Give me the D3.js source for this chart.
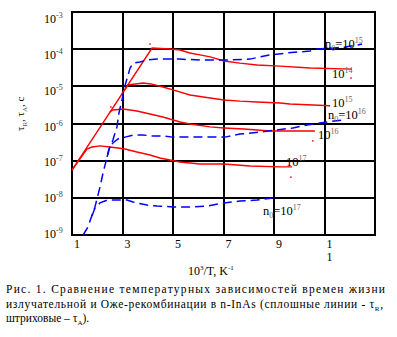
<!DOCTYPE html>
<html><head><meta charset="utf-8">
<script src="https://cdn.jsdelivr.net/npm/d3@7"></script>
<style>
body{margin:0;background:#fff}
svg{display:block}
</style>
</head><body>
<svg id="c" width="397" height="337" font-family="Times New Roman, Liberation Serif, DejaVu Serif, serif"></svg>
<script>
// ---- data ----
const xTicks = [1, 3, 5, 7, 9, 11];
const xTickLabels = [["1"], ["3"], ["5"], ["7"], ["9"], ["1", "1"]];
const yTickExps = [-3, -4, -5, -6, -7, -8, -9];

// radiative lifetimes tau_R (solid red)
const tauR14 = [[1.00,5.6e-8],[4.17,1.07e-4],[4.88,1.01e-4],[5.28,9.5e-5],[5.67,7.9e-5],[6.07,7.0e-5],[6.47,6.2e-5],[7.02,4.8e-5],[7.65,4.2e-5],[8.33,3.75e-5],[9.24,3.5e-5],[10.43,3.1e-5],[12.09,2.9e-5]];
const tauR15 = [[2.98,6.3e-6],[3.22,1.09e-5],[3.81,1.23e-5],[4.13,1.16e-5],[4.60,9.6e-6],[5.00,8.0e-6],[5.67,5.85e-6],[6.47,4.85e-6],[7.02,4.3e-6],[7.65,4.0e-6],[8.33,3.8e-6],[9.24,3.56e-6],[9.63,3.35e-6],[10.54,3.15e-6],[11.22,3.0e-6]];
const tauR16 = [[2.50,2.04e-6],[2.62,2.31e-6],[3.02,2.46e-6],[3.57,2.17e-6],[4.09,1.80e-6],[4.60,1.5e-6],[5.28,1.10e-6],[5.67,9.7e-7],[6.47,8.1e-7],[7.02,7.6e-7],[7.81,7.1e-7],[8.84,6.3e-7],[10.62,6.3e-7]];
const tauR17 = [[1.00,5.6e-8],[1.59,2.06e-7],[1.79,2.33e-7],[2.11,2.5e-7],[2.50,2.33e-7],[2.82,2.19e-7],[3.10,2.06e-7],[3.57,1.71e-7],[4.09,1.42e-7],[4.48,1.18e-7],[4.88,1.04e-7],[5.28,9.2e-8],[6.07,8.1e-8],[7.02,8.1e-8],[8.05,7.2e-8],[9.24,6.8e-8],[9.71,6.8e-8]];
const redMarks = [[4.09,1.38e-4],[2.54,2.78e-6],[12.05,1.67e-5],[10.54,3.4e-7],[9.67,3.6e-8]];

// Auger lifetimes tau_A (dashed blue)
const tauA15 = [[1.44,1.0e-9],[1.63,1.64e-9],[1.91,5.7e-9],[2.11,1.96e-8],[2.23,4.7e-8],[2.39,1.26e-7],[2.50,2.33e-7],[2.62,3.6e-7],[2.78,8.1e-7],[2.82,1.24e-6],[2.86,1.92e-6],[2.98,4.29e-6],[3.06,7.97e-6],[3.14,1.31e-5],[3.22,2.0e-5],[3.30,3.1e-5],[3.42,4.2e-5],[3.69,4.5e-5],[3.97,5.1e-5],[4.37,5.4e-5],[5.28,5.4e-5],[6.07,5.1e-5],[7.02,5.1e-5],[8.05,5.4e-5],[8.45,6.2e-5],[8.84,7.0e-5],[9.51,7.9e-5],[9.95,8.4e-5],[10.43,8.9e-5],[10.70,1.01e-4],[11.34,1.07e-4],[11.81,1.14e-4],[12.29,1.29e-4],[12.49,1.38e-4]];
const tauA16 = [[2.39,1.26e-7],[2.47,2.19e-7],[2.62,3.0e-7],[2.82,3.83e-7],[3.10,4.3e-7],[3.42,4.9e-7],[3.81,4.9e-7],[4.21,4.6e-7],[4.60,4.6e-7],[5.00,4.3e-7],[5.67,4.3e-7],[6.47,4.3e-7],[7.06,4.3e-7],[7.65,5.2e-7],[8.45,5.9e-7],[9.12,6.7e-7],[9.75,7.6e-7],[10.31,9.1e-7],[10.82,1.03e-6],[11.69,1.24e-6]];
const tauA17 = [[1.79,3.25e-9],[1.91,5.3e-9],[2.11,7.3e-9],[2.39,8.7e-9],[2.82,8.7e-9],[3.18,8.7e-9],[3.42,7.7e-9],[3.97,6.4e-9],[4.37,6.0e-9],[5.00,5.7e-9],[5.67,5.7e-9],[6.35,6.0e-9],[7.02,7.3e-9],[7.65,8.2e-9],[8.33,8.7e-9],[8.96,9.9e-9]];

// curve labels: [x, tau(baseline), prefix "n0=" ?, exponent]
const curveLabels = [
  [11.02, 1.07e-4, true, "15"],
  [11.30, 1.67e-5, false, "14"],
  [11.30, 2.78e-6, false, "15"],
  [11.14, 1.32e-6, true, "16"],
  [10.74, 3.83e-7, false, "16"],
  [9.48, 7.2e-8, false, "17"],
  [8.56, 3.46e-9, true, "17"]
];

// ---- drawing ----
const svg = d3.select("#c");
const pL = 72, pR = 375, pT = 12, pB = 235;
const x = d3.scaleLinear().domain([1, 13]).range([pL, pR]);
const y = d3.scaleLog().domain([1e-9, 1e-3]).range([pB, pT]);
const yLab = d3.scaleLinear().domain([-3, -9]).range([19, 234]);

const grid = svg.append("g").attr("stroke", "#000").attr("stroke-width", 2).attr("shape-rendering", "crispEdges");
xTicks.slice(1).forEach(v => {
  const px = Math.round(x(v));
  grid.append("line").attr("x1", px).attr("x2", px).attr("y1", pT).attr("y2", pB);
});
yTickExps.slice(1, -1).forEach(e => {
  const py = Math.round(y(Math.pow(10, e)));
  grid.append("line").attr("x1", pL).attr("x2", pR).attr("y1", py).attr("y2", py);
});
grid.append("rect").attr("x", pL).attr("y", pT).attr("width", pR - pL).attr("height", pB - pT).attr("fill", "none");

const line = d3.line().x(d => x(d[0])).y(d => y(d[1]));
const plot = svg.append("g");
[tauR14, tauR15, tauR16, tauR17].forEach(s => {
  plot.append("path").attr("d", line(s)).attr("fill", "none").attr("stroke", "#ff0000").attr("stroke-width", 1.4);
});
[tauA15, tauA16, tauA17].forEach(s => {
  plot.append("path").attr("d", line(s)).attr("fill", "none").attr("stroke", "#0000ff").attr("stroke-width", 1.5).attr("stroke-dasharray", "9,5");
});
plot.selectAll(".mk").data(redMarks).enter().append("rect")
  .attr("x", d => x(d[0]) - 0.75).attr("y", d => y(d[1]) - 0.75).attr("width", 1.5).attr("height", 1.5).attr("fill", "#ff0000");

// y tick labels
yTickExps.forEach(e => {
  const t = svg.append("text").attr("x", 44).attr("y", yLab(e) + 4).attr("font-size", 12);
  t.append("tspan").text("10");
  t.append("tspan").attr("font-size", 8).attr("dy", -5).attr("fill", "#444").text("-" + Math.abs(e));
});

// x tick labels
xTicks.forEach((v, i) => {
  const t = svg.append("text").attr("text-anchor", "middle").attr("font-size", 12);
  xTickLabels[i].forEach((s, j) => {
    t.append("tspan").attr("x", x(v) + 5).attr("y", 248 + j * 13).text(s);
  });
});

// axis titles
const xt = svg.append("text").attr("x", 188).attr("y", 275).attr("font-size", 12);
xt.append("tspan").text("10");
xt.append("tspan").attr("font-size", 7).attr("dy", -5).text("3");
xt.append("tspan").attr("dy", 5).text("/T, K");
xt.append("tspan").attr("font-size", 7).attr("dy", -5).text("-1");

const yt = svg.append("text").attr("transform", "translate(24,131) rotate(-90)").attr("font-size", 11);
yt.append("tspan").text("τ");
yt.append("tspan").attr("font-size", 7).attr("dy", 3).attr("fill", "#555").text("R");
yt.append("tspan").attr("dy", -3).text(", τ");
yt.append("tspan").attr("font-size", 7).attr("dy", 3).attr("fill", "#555").text("A");
yt.append("tspan").attr("dy", -3).text(", c");

// curve labels
curveLabels.forEach(([vx, vy, pre, ex]) => {
  const t = svg.append("text").attr("x", x(vx)).attr("y", y(vy)).attr("font-size", 12.5);
  if (pre) {
    t.append("tspan").text("n");
    t.append("tspan").attr("font-size", 8).attr("dy", 3).attr("fill", "#666").text("0");
    t.append("tspan").attr("dy", -3).text("=10");
  } else {
    t.append("tspan").text("10");
  }
  t.append("tspan").attr("font-size", 8).attr("dy", -5).attr("fill", "#666").text(ex);
});

// caption
svg.append("text").attr("x", 6).attr("y", 293).attr("font-size", 11.5)
  .attr("textLength", 379).attr("lengthAdjust", "spacing")
  .text("Рис. 1. Сравнение температурных зависимостей времен жизни");
const cap2 = svg.append("text").attr("x", 6).attr("y", 307.5).attr("font-size", 11.5)
  .attr("textLength", 377).attr("lengthAdjust", "spacing");
cap2.append("tspan").text("излучательной и Оже-рекомбинации в n-InAs (сплошные линии - τ");
cap2.append("tspan").attr("font-size", 7).attr("dy", 3).text("R");
cap2.append("tspan").attr("dy", -3).text(",");
const cap3 = svg.append("text").attr("x", 6).attr("y", 322).attr("font-size", 11.5);
cap3.append("tspan").text("штриховые – τ");
cap3.append("tspan").attr("font-size", 7).attr("dy", 3).text("A");
cap3.append("tspan").attr("dy", -3).text(").");
</script>
</body></html>
